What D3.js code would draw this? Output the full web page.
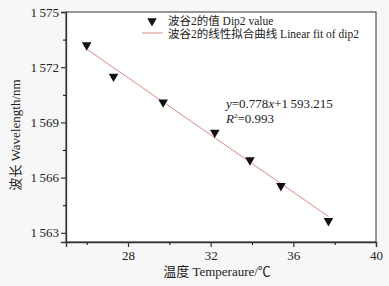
<!DOCTYPE html>
<html>
<head>
<meta charset="utf-8">
<script src="https://cdn.jsdelivr.net/npm/d3@7"></script>
<style>
  body { margin: 0; background: #f7f7f7; }
  svg { display: block; }
  text { font-family: "Liberation Serif", "Noto Sans CJK SC", serif; fill: #222; }
</style>
</head>
<body>
<div id="chart"></div>
<script>
// Data
var temperature = [26.0, 27.3, 29.7, 32.2, 33.9, 35.4, 37.7];
var wavelength = [1573.2, 1571.5, 1570.1, 1568.45, 1566.95, 1565.55, 1563.65];
var fitSlope = -0.778, fitIntercept = 1593.215;
var xTicks = [28, 32, 36, 40];
var yTicks = [1563, 1566, 1569, 1572, 1575];
var legendLabels = ["波谷2的值 Dip2 value", "波谷2的线性拟合曲线 Linear fit of dip2"];

var margin = {top: 12, right: 13, bottom: 44, left: 66},
    W = 389, H = 286,
    width = W - margin.left - margin.right,
    height = H - margin.top - margin.bottom;

var svg = d3.select("#chart").append("svg")
    .attr("width", W).attr("height", H);

svg.append("rect").attr("x", margin.left).attr("y", margin.top)
    .attr("width", width).attr("height", height).attr("fill", "#fff");

var g = svg.append("g")
    .attr("transform", "translate(" + margin.left + "," + margin.top + ")");

var x = d3.scaleLinear().domain([25, 40]).range([0, width]);
var y = d3.scaleLinear().domain([1562.5, 1575]).range([height, 0]);

var fmt = function(d) { return String(d).replace(/^(\d)(\d{3})$/, "$1\u2009$2"); };

// frame
g.append("rect").attr("width", width).attr("height", height)
    .attr("fill", "none").attr("stroke", "#333").attr("stroke-width", 1);

// minor ticks
g.append("g").attr("transform", "translate(0," + height + ")")
    .call(d3.axisBottom(x).tickValues([26, 30, 34, 38]).tickSize(3).tickFormat(""))
    .call(function(a) { a.select(".domain").remove(); });
g.append("g")
    .call(d3.axisLeft(y).tickValues([1564.5, 1567.5, 1570.5, 1573.5]).tickSize(3).tickFormat(""))
    .call(function(a) { a.select(".domain").remove(); });

// major axes
var xAxis = g.append("g").attr("transform", "translate(0," + height + ")")
    .call(d3.axisBottom(x).tickValues(xTicks).tickSize(5).tickPadding(4));
var yAxis = g.append("g")
    .call(d3.axisLeft(y).tickValues(yTicks).tickSize(5).tickPadding(2).tickFormat(fmt));
[xAxis, yAxis].forEach(function(a) {
    a.select(".domain").attr("stroke", "#333").attr("stroke-width", 1.3);
    a.selectAll(".tick line").attr("stroke", "#333").attr("stroke-width", 1.2);
    a.selectAll("text").style("font-size", "13px").attr("fill", "#222");
});

// fit line
var x0 = d3.min(temperature), x1 = d3.max(temperature);
g.append("line")
    .attr("x1", x(x0)).attr("y1", y(fitSlope * x0 + fitIntercept))
    .attr("x2", x(x1)).attr("y2", y(fitSlope * x1 + fitIntercept))
    .attr("stroke", "#d98a84").attr("stroke-width", 1);

// points
var tri = d3.symbol().type(d3.symbolTriangle).size(40);
g.selectAll(".pt").data(temperature).enter().append("path")
    .attr("d", tri)
    .attr("transform", function(d, i) {
        return "translate(" + x(d) + "," + y(wavelength[i]) + ") rotate(180)";
    })
    .attr("fill", "#111");

// legend
var lg = g.append("g").attr("transform", "translate(" + (x(25) + 76) + ",9)");
lg.append("path").attr("d", tri).attr("transform", "translate(10,0) rotate(180)").attr("fill", "#111");
lg.append("line").attr("x1", 0).attr("x2", 21).attr("y1", 12).attr("y2", 12)
    .attr("stroke", "#d98a84").attr("stroke-width", 1);
lg.selectAll(".lt").data(legendLabels).enter().append("text")
    .attr("x", 26).attr("y", function(d, i) { return 4 + i * 13; })
    .style("font-size", "11.5px").text(function(d) { return d; });

// equation
var eq = g.append("text").attr("x", 160).attr("y", 96).style("font-size", "13px");
eq.append("tspan").style("font-style", "italic").text("y");
eq.append("tspan").text("=0.778");
eq.append("tspan").style("font-style", "italic").text("x");
eq.append("tspan").text("+1\u2009593.215");
var r2 = g.append("text").attr("x", 160).attr("y", 111).style("font-size", "13px");
r2.append("tspan").style("font-style", "italic").text("R");
r2.append("tspan").attr("dy", -5).style("font-size", "7px").text("2");
r2.append("tspan").attr("dy", 5).text("=0.993");

// axis titles
svg.append("text").attr("x", margin.left + width / 2 - 4).attr("y", 276)
    .attr("text-anchor", "middle").style("font-size", "13px")
    .text("温度 Temperaure/℃");
svg.append("text").attr("transform", "translate(20," + (margin.top + height / 2 + 8) + ") rotate(-90)")
    .attr("text-anchor", "middle").style("font-size", "13px")
    .text("波长 Wavelength/nm");
</script>
</body>
</html>
